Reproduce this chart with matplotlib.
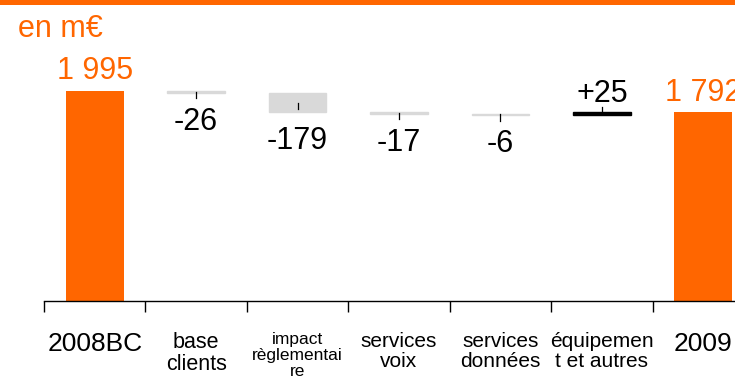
import matplotlib.pyplot as plt
import numpy as np

plt.rcParams['font.family'] = ['Liberation Sans', 'DejaVu Sans']

ORANGE = '#ff6600'
GREY = '#d9d9d9'

# waterfall data (m€)
categories = ['2008BC', 'base\nclients', 'impact\nrèglementai\nre', 'services\nvoix',
              'services\ndonnées', 'équipemen\nt et autres', '2009']
cat_sizes = [19, 15.5, 12.5, 15, 15, 15, 19]
start_total = 1995
deltas = [-26, -179, -17, -6, 25]
end_total = 1792
value_labels = ['1 995', '-26', '-179', '-17', '-6', '+25', '1 792']

fig = plt.figure(figsize=(7.35, 3.85), dpi=100)
ax = fig.add_axes([44 / 735, 84 / 385, 710 / 735, 232 / 385])

x = np.arange(len(categories))
width = 0.57

# totals
ax.bar([x[0], x[-1]], [start_total, end_total], width=width, color=ORANGE, linewidth=0)

# deltas
level = start_total
for i, d in enumerate(deltas, start=1):
    lo, hi = min(level, level + d), max(level, level + d)
    col = 'black' if d > 0 else GREY
    ax.bar(x[i], hi - lo, bottom=lo, width=width, color=col, edgecolor=col, linewidth=1)
    mid = (lo + hi) / 2
    tick_len = 60
    y2 = mid + tick_len if d > 0 else mid - tick_len
    ax.plot([x[i], x[i]], [mid, y2], color='black', lw=0.9)
    if d > 0:
        ax.annotate(value_labels[i], (x[i], hi), xytext=(0, 2.5), textcoords='offset points',
                    ha='center', va='bottom', fontsize=22)
    else:
        ax.annotate(value_labels[i], (x[i], lo), xytext=(0, -10), textcoords='offset points',
                    ha='center', va='top', fontsize=22)
    level += d

for i, v in [(0, start_total), (len(x) - 1, end_total)]:
    ax.annotate(value_labels[i], (x[i], v), xytext=(0, 3), textcoords='offset points',
                ha='center', va='bottom', fontsize=22, color=ORANGE)

# category labels
for i, (c, s) in enumerate(zip(categories, cat_sizes)):
    ax.annotate(c, (x[i], 0), xycoords=('data', 'axes fraction'), xytext=(0, -22.5),
                textcoords='offset points', ha='center', va='top', fontsize=s,
                linespacing=1.07)

ax.set_xlim(-0.5, len(categories) - 0.5)
ax.set_ylim(0, 2200)
ax.set_xticks(np.arange(len(categories) + 1) - 0.5)
ax.set_xticklabels([])
ax.tick_params(axis='x', direction='out', length=8, width=1, color='black')
ax.set_yticks([])
for s in ['top', 'left', 'right']:
    ax.spines[s].set_visible(False)
ax.spines['bottom'].set_linewidth(1)

# orange band at top and unit label
fig.add_artist(plt.Rectangle((0, 1 - 5 / 385), 1, 5 / 385, transform=fig.transFigure,
                             color=ORANGE, linewidth=0))
fig.text(18 / 735, 1 - 29 / 385, 'en m€', color=ORANGE, fontsize=22, va='center', ha='left')

fig.savefig('out.png', dpi=100)
